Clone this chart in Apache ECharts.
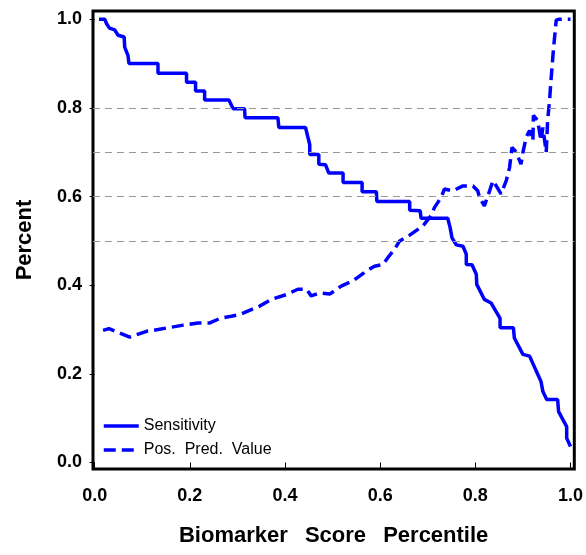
<!DOCTYPE html>
<html>
<head>
<meta charset="utf-8">
<script src="https://cdn.jsdelivr.net/npm/echarts@6/dist/echarts.min.js"></script>
<style>
  html, body { margin: 0; padding: 0; background: #fff; }
  #main { width: 586px; height: 555px; }
</style>
</head>
<body>
<div id="main"></div>
<script>
    // 数据 (x = percentile, y = percent)
    var sensitivityPts = [
        [0.009,1.0],[0.021,1.0],[0.025,0.99],[0.031,0.98],[0.042,0.976],[0.049,0.964],[0.062,0.96],
        [0.063,0.937],[0.070,0.918],[0.072,0.90],[0.133,0.90],[0.133,0.878],[0.193,0.878],[0.193,0.858],
        [0.212,0.858],[0.212,0.838],[0.231,0.838],[0.231,0.818],[0.282,0.818],[0.291,0.798],[0.315,0.798],
        [0.316,0.778],[0.385,0.778],[0.387,0.756],[0.443,0.756],[0.452,0.717],[0.452,0.695],[0.471,0.695],
        [0.471,0.673],[0.485,0.672],[0.492,0.653],[0.522,0.653],[0.522,0.632],[0.562,0.632],[0.562,0.611],
        [0.592,0.611],[0.593,0.589],[0.662,0.589],[0.662,0.569],[0.684,0.568],[0.686,0.551],[0.742,0.551],
        [0.747,0.53],[0.751,0.507],[0.760,0.491],[0.774,0.488],[0.781,0.47],[0.781,0.447],[0.793,0.446],
        [0.802,0.425],[0.803,0.402],[0.819,0.368],[0.833,0.36],[0.852,0.325],[0.852,0.304],[0.880,0.304],
        [0.882,0.281],[0.900,0.244],[0.914,0.24],[0.938,0.183],[0.942,0.16],[0.950,0.142],[0.973,0.142],
        [0.975,0.115],[0.992,0.081],[0.992,0.055],[1.0,0.036]
    ];
    var ppvPts = [
        [0.0175,0.298],[0.03,0.302],[0.042,0.297],[0.0735,0.283],[0.109,0.296],[0.133,0.30],[0.154,0.304],
        [0.186,0.31],[0.217,0.315],[0.242,0.315],[0.263,0.325],[0.287,0.330],[0.305,0.334],[0.347,0.353],
        [0.371,0.368],[0.403,0.379],[0.427,0.391],[0.445,0.391],[0.455,0.376],[0.473,0.383],[0.494,0.38],
        [0.518,0.398],[0.543,0.41],[0.571,0.432],[0.588,0.443],[0.606,0.447],[0.616,0.462],[0.630,0.481],
        [0.641,0.5],[0.662,0.513],[0.69,0.534],[0.707,0.557],[0.714,0.575],[0.728,0.598],[0.735,0.617],
        [0.753,0.613],[0.774,0.624],[0.795,0.624],[0.805,0.613],[0.809,0.598],[0.819,0.579],[0.830,0.613],
        [0.837,0.636],[0.844,0.624],[0.854,0.606],[0.865,0.636],[0.872,0.666],[0.877,0.711],[0.886,0.70],
        [0.896,0.673],[0.90,0.70],[0.907,0.734],[0.914,0.749],[0.921,0.726],[0.922,0.783],[0.931,0.772],
        [0.938,0.726],[0.942,0.756],[0.949,0.70],[0.952,0.772],[0.956,0.817],[0.959,0.862],[0.964,0.93],
        [0.97,0.998],[0.975,1.0],[1.0,1.0]
    ];
    var tickValues = [0, 0.2, 0.4, 0.6, 0.8, 1.0];
    var refLines = [0.5, 0.6, 0.7, 0.8];   // 虚线参考线
    var ppvDash = [12, 6];

    var font = '"Liberation Sans", Arial, sans-serif';
    var myChart = echarts.init(document.getElementById('main'), null, { renderer: 'canvas' });

    var option = {
        animation: false,
        grid: {
            left: 93, top: 11, width: 483, height: 458,
            show: true, borderColor: '#000', borderWidth: 3, backgroundColor: '#fff'
        },
        legend: {
            orient: 'vertical',
            left: 102, top: 418, padding: 0,
            itemWidth: 35, itemHeight: 14, itemGap: 8,
            itemStyle: { opacity: 0 },   // 只显示线, 不显示圆点
            textStyle: { fontFamily: font, fontSize: 16, color: '#000' },
            data: [
                { name: 'Sensitivity', lineStyle: { width: 3.5 } },
                { name: 'Pos.  Pred.  Value', lineStyle: { width: 3.5, type: ppvDash } }
            ]
        },
        xAxis: {
            type: 'value', min: -0.0036, max: 1.008,
            name: 'Biomarker\u2002 Score\u2002 Percentile',
            nameLocation: 'middle', nameGap: 56,
            nameTextStyle: { fontFamily: font, fontSize: 22, fontWeight: 'bold', color: '#000' },
            axisLine: { show: false },
            axisTick: { show: true, length: 6, customValues: tickValues, lineStyle: { color: '#000' } },
            axisLabel: {
                customValues: tickValues, margin: 18,
                fontFamily: font, fontSize: 18, fontWeight: 'bold', color: '#000',
                formatter: function (v) { return v.toFixed(1); }
            },
            splitLine: { show: false }
        },
        yAxis: {
            type: 'value', min: -0.0146, max: 1.0187,
            name: 'Percent',
            nameLocation: 'middle', nameGap: 57,
            nameTextStyle: { fontFamily: font, fontSize: 22, fontWeight: 'bold', color: '#000' },
            axisLine: { show: false },
            axisTick: { show: true, length: 5, customValues: tickValues, lineStyle: { color: '#000' } },
            axisLabel: {
                customValues: tickValues, margin: 11,
                fontFamily: font, fontSize: 18, fontWeight: 'bold', color: '#000',
                formatter: function (v) { return v.toFixed(1); }
            },
            splitLine: { show: false }
        },
        series: [
            {
                name: 'Sensitivity',
                type: 'line',
                data: sensitivityPts,
                symbol: 'none',
                lineStyle: { color: '#0000ff', width: 3.5 },
                itemStyle: { color: '#0000ff' },
                z: 3,
                markLine: {
                    silent: true, symbol: 'none',
                    label: { show: false },
                    lineStyle: { color: '#999', type: [7, 5], width: 1 },
                    data: refLines.map(function (v) { return { yAxis: v }; })
                }
            },
            {
                name: 'Pos.  Pred.  Value',
                type: 'line',
                data: ppvPts,
                symbol: 'none',
                lineStyle: { color: '#0000ff', width: 3.5, type: ppvDash },
                itemStyle: { color: '#0000ff' },
                z: 3
            }
        ]
    };
    myChart.setOption(option);
</script>
</body>
</html>
